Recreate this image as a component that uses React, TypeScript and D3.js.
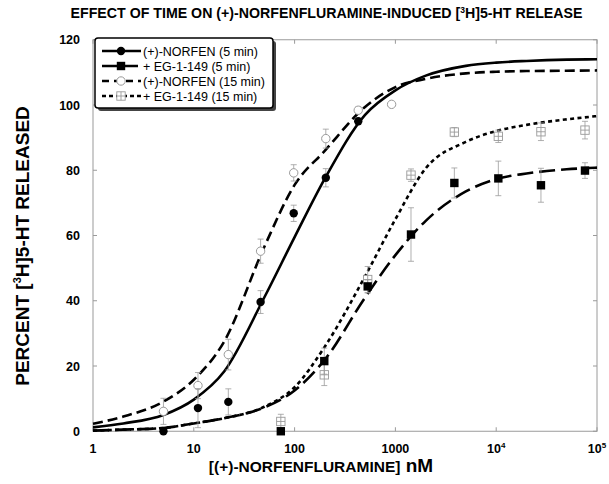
import * as d3 from 'd3';

// measured points (nM, percent released, +/- error)
const concNorfen5 = [5, 11, 22, 46, 98, 204, 428];
const relNorfen5 = [0, 7.1, 9, 39.6, 66.8, 77.7, 95];
const errNorfen5 = [0, 6, 4, 3.5, 2.5, 2.8, 1];

const concNorfen15 = [5, 11, 22, 46, 98, 204, 428, 917];
const relNorfen15 = [6.1, 14, 23.5, 55.2, 79.2, 89.7, 98.4, 100.2];
const errNorfen15 = [4, 4, 4.7, 3.7, 2.5, 2.9, 1, 0];

const concEg = [73, 197, 531, 1428, 3845, 10500, 27800, 76000];
const relEg5 = [0, 21.5, 44.4, 60.3, 76.1, 77.5, 75.4, 79.9];
const errEg5 = [0, 4, 2, 8.2, 4.6, 5.3, 5.2, 2.4];
const relEg15 = [3, 17.3, 46.5, 78.5, 91.7, 90.4, 91.8, 92.3];
const errEg15 = [2.2, 3.3, 4, 1.9, 1.4, 1.9, 2.7, 2.7];

// fitted curves
const fitConc = [1, 2, 5, 10, 20, 50, 100, 200, 500, 1000, 2000, 5000, 1e4, 2e4, 5e4, 1e5];
const fitNorfen5 = [1.2, 2.4, 5.0, 9.7, 18.3, 41, 59.5, 77.5, 97, 104.5, 109, 112, 113, 113.5, 113.9, 114];
const fitNorfen15 = [2.3, 4.5, 9.1, 15.8, 27.5, 56.5, 75.5, 86, 99.4, 105.5, 108, 109.7, 110.2, 110.4, 110.5, 110.6];
const fitEg5 = [0.2, 0.5, 1.0, 2.4, 4.0, 7.3, 12.5, 22, 41, 54, 64.5, 73.5, 77.3, 79, 80.3, 80.8];
const fitEg15 = [0.2, 0.5, 1.0, 2.4, 4.0, 7.5, 13.5, 26, 47.5, 65, 80.6, 88.7, 92, 93.9, 95.6, 96.6];

const yTicks = [0, 20, 40, 60, 80, 100, 120];
const xTicks = [1, 10, 100, 1000, 1e4, 1e5];
const legendLabels = ['(+)-NORFEN (5 min)', '+ EG-1-149 (5 min)', '(+)-NORFEN (15 min)', '+ EG-1-149 (15 min)'];

const W = 609;
const H = 484;
const FONT = '"Liberation Sans", Arial, Helvetica, sans-serif';
const GRAY = '#9a9a9a';

const x = d3.scaleLog().domain([1, 1e5]).range([93, 597]);
const y = d3.scaleLinear().domain([0, 120]).range([431.25, 39.75]);

const line = d3.line<[number, number]>()
  .x(d => x(d[0]))
  .y(d => y(d[1]))
  .curve(d3.curveMonotoneX);

const zip = (a: number[], b: number[]) => a.map((v, i) => [v, b[i]] as [number, number]);

type Kind = 'dot' | 'square' | 'ring' | 'box';

function Marker({ cx, cy, kind }: { cx: number; cy: number; kind: Kind }) {
  const s = 4.2;
  if (kind === 'dot') return <circle cx={cx} cy={cy} r={s} fill="#000" />;
  if (kind === 'square') return <rect x={cx - s} y={cy - s} width={2 * s} height={2 * s} fill="#000" />;
  if (kind === 'ring') return <circle cx={cx} cy={cy} r={s} fill="#fff" stroke={GRAY} strokeWidth={1} />;
  return (
    <g stroke={GRAY} strokeWidth={0.9}>
      <rect x={cx - s} y={cy - s} width={2 * s} height={2 * s} fill="#fff" />
      <line x1={cx - s} x2={cx + s} y1={cy} y2={cy} />
      <line x1={cx} x2={cx} y1={cy - s} y2={cy + s} />
    </g>
  );
}

function Points({ conc, rel, err, kind }: { conc: number[]; rel: number[]; err: number[]; kind: Kind }) {
  return (
    <g>
      {conc.map((c, i) => {
        const cx = x(c);
        const e = err[i];
        return (
          <g key={i}>
            {e > 0 && (
              <g stroke={GRAY} strokeWidth={0.8}>
                <line x1={cx} x2={cx} y1={y(rel[i] + e)} y2={y(rel[i] - e)} />
                <line x1={cx - 3} x2={cx + 3} y1={y(rel[i] + e)} y2={y(rel[i] + e)} />
                <line x1={cx - 3} x2={cx + 3} y1={y(rel[i] - e)} y2={y(rel[i] - e)} />
              </g>
            )}
            <Marker cx={cx} cy={y(rel[i])} kind={kind} />
          </g>
        );
      })}
    </g>
  );
}

const series = [
  { fit: fitNorfen5, dash: undefined, legendDash: undefined, kind: 'dot' as Kind },
  { fit: fitEg5, dash: '16,6', legendDash: '15,6', kind: 'square' as Kind },
  { fit: fitNorfen15, dash: '10,5', legendDash: '7,5', kind: 'ring' as Kind },
  { fit: fitEg15, dash: '4,3.4', legendDash: '4,3', kind: 'box' as Kind },
];

export default function App() {
  const [x0, x1] = x.range();
  const [yb, yt] = y.range();
  return (
    <svg width={W} height={H} style={{ position: 'absolute', left: 0, top: 0, background: '#fff' }} fontFamily={FONT}>
      {/* title */}
      <text x={326.5} y={18} textAnchor="middle" fontSize={14.2} fontWeight="bold">
        EFFECT OF TIME ON (+)-NORFENFLURAMINE-INDUCED [<tspan fontSize={8.5} dy={-5}>3</tspan><tspan dy={5}>H]5-HT RELEASE</tspan>
      </text>

      {/* frame + ticks */}
      <rect x={x0} y={yt} width={x1 - x0} height={yb - yt} fill="none" stroke={GRAY} strokeWidth={1} />
      {yTicks.map(t => (
        <g key={t} stroke={GRAY}>
          <line x1={x0} x2={x0 + 4} y1={y(t)} y2={y(t)} />
          <line x1={x1} x2={x1 - 4} y1={y(t)} y2={y(t)} />
        </g>
      ))}
      {xTicks.map(t => (
        <g key={t} stroke={GRAY}>
          <line x1={x(t)} x2={x(t)} y1={yb} y2={yb - 4} />
          <line x1={x(t)} x2={x(t)} y1={yt} y2={yt + 4} />
        </g>
      ))}
      {yTicks.map(t => (
        <text key={t} x={80} y={y(t) + 4.5} textAnchor="end" fontSize={12.5} fontWeight="bold">{t}</text>
      ))}
      {xTicks.map(t => {
        const e = Math.round(Math.log10(t));
        return (
          <text key={t} x={x(t)} y={453} textAnchor="middle" fontSize={12.5} fontWeight="bold">
            {e < 4 ? String(t) : <>10<tspan fontSize={8} dy={-5}>{e}</tspan></>}
          </text>
        );
      })}

      {/* axis titles */}
      <text x={321} y={472} textAnchor="middle" fontWeight="bold">
        <tspan fontSize={15.5}>[(+)-NORFENFLURAMINE]</tspan><tspan fontSize={19}> nM</tspan>
      </text>
      <text transform="translate(29,246) rotate(-90)" textAnchor="middle" fontSize={19} fontWeight="bold">
        PERCENT [<tspan fontSize={11} dy={-8}>3</tspan><tspan dy={8}>H]5-HT RELEASED</tspan>
      </text>

      {/* curves */}
      <g fill="none" stroke="#000" strokeWidth={2.6}>
        {series.map((s, i) => (
          <path key={i} d={line(zip(fitConc, s.fit)) || ''} strokeDasharray={s.dash} />
        ))}
      </g>

      {/* data */}
      <Points conc={concEg} rel={relEg15} err={errEg15} kind="box" />
      <Points conc={concEg} rel={relEg5} err={errEg5} kind="square" />
      <Points conc={concNorfen15} rel={relNorfen15} err={errNorfen15} kind="ring" />
      <Points conc={concNorfen5} rel={relNorfen5} err={errNorfen5} kind="dot" />

      {/* legend */}
      <rect x={98} y={41} width={178} height={70} rx={3} fill="#444" />
      <rect x={95} y={38} width={178} height={70} rx={3} fill="#fff" stroke="#000" strokeWidth={1.5} />
      {series.map((s, i) => {
        const ly = 51 + i * 15;
        return (
          <g key={i}>
            <line x1={102} x2={141} y1={ly} y2={ly} stroke="#000" strokeWidth={2.6} strokeDasharray={s.legendDash} />
            <Marker cx={121} cy={ly} kind={s.kind} />
            <text x={143} y={ly + 4.5} fontSize={12.5}>{legendLabels[i]}</text>
          </g>
        );
      })}
    </svg>
  );
}
